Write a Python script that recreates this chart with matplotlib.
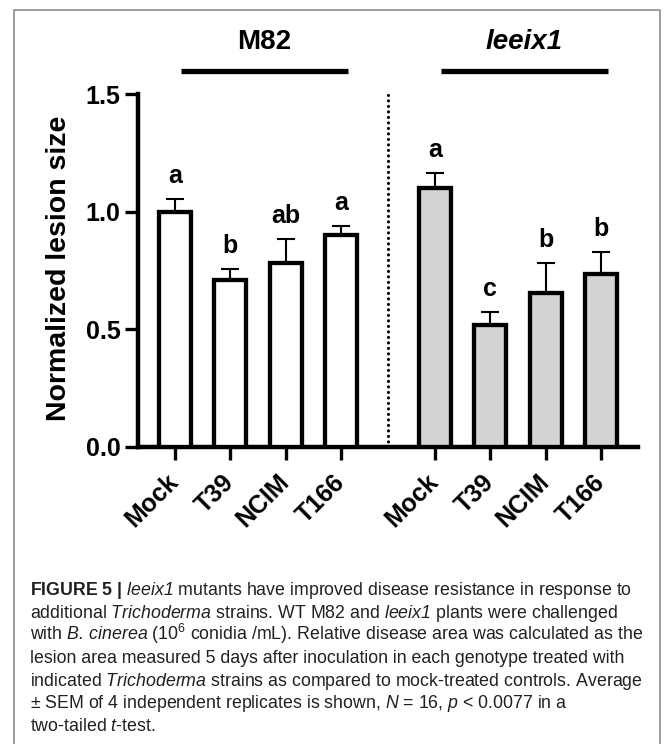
import matplotlib
matplotlib.use("Agg")
import matplotlib.pyplot as plt
from matplotlib import font_manager
from matplotlib.lines import Line2D

# data
treatments = ["Mock", "T39", "NCIM", "T166"]
genotypes = ["M82", "leeix1"]
m82_mean = [1.00, 0.71, 0.78, 0.90]
m82_sem = [0.055, 0.047, 0.105, 0.040]
leeix1_mean = [1.10, 0.52, 0.655, 0.735]
leeix1_sem = [0.066, 0.054, 0.128, 0.095]
m82_letters = ["a", "b", "ab", "a"]
leeix1_letters = ["a", "c", "b", "b"]
y_ticks = [0.0, 0.5, 1.0, 1.5]

# \mathsf is mapped to the italic face below (so digits stay italic too)
caption_lines = [
    r"$\mathbf{FIGURE\ 5\ |}$ $\mathsf{leeix1}$ mutants have improved disease resistance in response to",
    r"additional $\mathsf{Trichoderma}$ strains. WT M82 and $\mathsf{leeix1}$ plants were challenged",
    r"with $\mathsf{B.\,cinerea}$ (10$^{6}$ conidia /mL). Relative disease area was calculated as the",
    r"lesion area measured 5 days after inoculation in each genotype treated with",
    r"indicated $\mathsf{Trichoderma}$ strains as compared to mock-treated controls. Average",
    r"± SEM of 4 independent replicates is shown, $\mathsf{N}$ = 16, $\mathsf{p}$ < 0.0077 in a",
    r"two-tailed $\mathsf{t}$-test.",
]

installed = {f.name for f in font_manager.fontManager.ttflist}
cap_font = "Liberation Sans Narrow" if "Liberation Sans Narrow" in installed else "Liberation Sans"

plt.rcParams["font.family"] = ["Liberation Sans", "DejaVu Sans"]
plt.rcParams["mathtext.fontset"] = "custom"
plt.rcParams["mathtext.rm"] = cap_font + ":normal"
plt.rcParams["mathtext.it"] = cap_font + ":italic:normal"
plt.rcParams["mathtext.sf"] = cap_font + ":italic:normal"
plt.rcParams["mathtext.bf"] = cap_font + ":bold"

W, H = 669, 744
fig = plt.figure(figsize=(W / 100, H / 100), dpi=100)
ax = fig.add_axes([138 / W, 1 - 447 / H, 500 / W, 353 / H])

gap = 1.7
pos_m82 = [i for i in range(len(treatments))]
pos_lee = [i + gap + len(treatments) - 1 for i in range(len(treatments))]

groups = [
    (pos_m82, m82_mean, m82_sem, m82_letters, "white", genotypes[0], "normal"),
    (pos_lee, leeix1_mean, leeix1_sem, leeix1_letters, "#d3d3d3", genotypes[1], "italic"),
]

for pos, mean, sem, letters, fill, name, style in groups:
    ax.bar(pos, mean, width=0.575, color=fill, edgecolor="black",
           linewidth=3.1, zorder=3)
    ax.errorbar(pos, mean, yerr=[[0] * len(sem), sem], fmt="none",
                ecolor="black", elinewidth=1.5, capsize=6.5, capthick=1.5,
                zorder=2)
    for x, m, s, lab in zip(pos, mean, sem, letters):
        ax.text(x, m + s + 0.068, lab, ha="center", va="baseline",
                fontsize=18, fontweight="bold")
    x0, x1 = pos[0] + 0.1, pos[-1] + 0.12
    ax.plot([x0, x1], [1.596, 1.596], color="black", lw=3.8,
            solid_capstyle="butt", clip_on=False)
    ax.text((x0 + x1) / 2, 1.69, name, ha="center", va="baseline",
            fontsize=20, fontweight="bold", fontstyle=style, clip_on=False)

# dotted separator
sep = (pos_m82[-1] + pos_lee[0]) / 2
ax.plot([sep, sep], [0, 1.5], color="black", lw=2.2,
        linestyle=(0, (0.05, 1.75)), dash_capstyle="round", zorder=1)

ax.set_xlim(-0.67, 8.37)
ax.set_ylim(0, 1.5)
ax.set_yticks(y_ticks)
ax.set_yticklabels([f"{v:.1f}" for v in y_ticks], fontweight="bold")
ax.set_xticks(pos_m82 + pos_lee)
ax.set_xticklabels(treatments * 2, rotation=45, ha="right", va="center",
                   rotation_mode="anchor", fontweight="bold")
ax.tick_params(axis="both", length=9.5, width=2.4, labelsize=18)
ax.tick_params(axis="y", pad=3.0)
ax.tick_params(axis="x", pad=13)
for side in ["top", "right"]:
    ax.spines[side].set_visible(False)
for side in ["left", "bottom"]:
    ax.spines[side].set_linewidth(3.2)
ax.set_ylabel("Normalized lesion size", fontsize=20.5, fontweight="bold")
ax.yaxis.set_label_coords(-0.132, 0.507)

# frame around figure + caption
fig.add_artist(Line2D([14 / W, 14 / W, 660 / W, 660 / W],
                      [0, 1 - 10 / H, 1 - 10 / H, 0],
                      transform=fig.transFigure, color="#8c8c8c", lw=1.2))

cap_size = 15.3 if cap_font != "Liberation Sans" else 12.8
for i, line in enumerate(caption_lines):
    fig.text(30 / W, 1 - (595 + i * 22.7) / H, line, ha="left", va="baseline",
             fontsize=cap_size, fontweight="normal", family=cap_font,
             color="#231f20")

fig.savefig("out.png", dpi=100)
